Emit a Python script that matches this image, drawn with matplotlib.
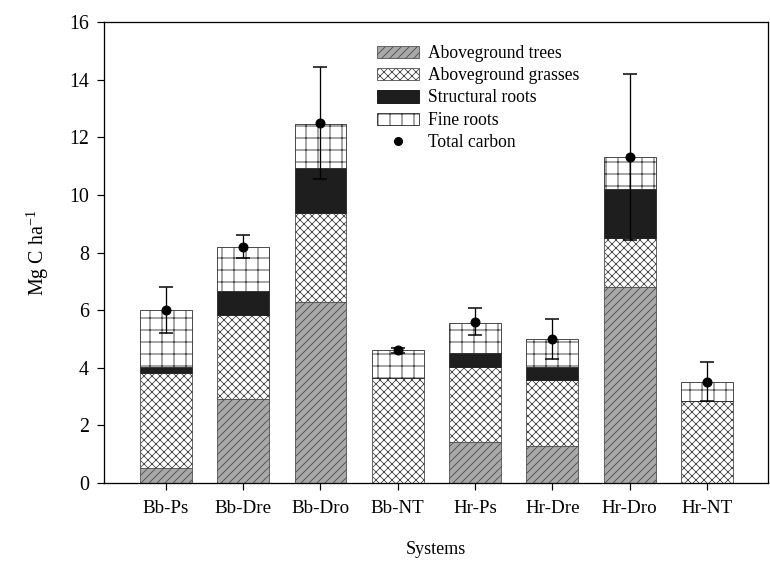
import matplotlib.pyplot as plt
from matplotlib.patches import Patch
from matplotlib.lines import Line2D

plt.rcParams["font.family"] = ["Liberation Serif", "DejaVu Serif"]
plt.rcParams["hatch.linewidth"] = 0.8

# data (Mg C ha-1)
systems = ["Bb-Ps", "Bb-Dre", "Bb-Dro", "Bb-NT", "Hr-Ps", "Hr-Dre", "Hr-Dro", "Hr-NT"]
trees = [0.52, 2.92, 6.27, 0.0, 1.43, 1.28, 6.80, 0.0]
grasses = [3.31, 2.91, 3.09, 3.65, 2.61, 2.30, 1.70, 2.85]
structural = [0.21, 0.85, 1.59, 0.0, 0.46, 0.46, 1.70, 0.0]
fine = [1.96, 1.52, 1.50, 0.95, 1.07, 0.95, 1.10, 0.67]
total = [6.0, 8.2, 12.5, 4.6, 5.6, 5.0, 11.3, 3.52]
err = [0.8, 0.4, 1.95, 0.1, 0.47, 0.7, 2.88, 0.68]

fig = plt.figure(figsize=(770 / 72, 562 / 72), dpi=72)
ax = fig.add_axes([104 / 770, 79 / 562, 664 / 770, 461 / 562])

x = list(range(len(systems)))
w = 0.67
b1 = trees
b2 = [a + b for a, b in zip(b1, grasses)]
b3 = [a + b for a, b in zip(b2, structural)]

ax.bar(x, trees, w, color="#a8a8a8", edgecolor="#4a4a4a", hatch="///", linewidth=0.8)
ax.bar(x, grasses, w, bottom=b1, color="white", edgecolor="#454545", hatch="xxx", linewidth=0.8)
ax.bar(x, structural, w, bottom=b2, color="#1e1e1e", edgecolor="#1e1e1e", linewidth=0.8)
ax.bar(x, fine, w, bottom=b3, color="white", edgecolor="#222222", hatch="+", linewidth=0.8)
ax.errorbar(x, total, yerr=err, fmt="o", color="black", markersize=9,
            ecolor="black", elinewidth=1.3, capsize=7, capthick=1.5, zorder=5)

ax.set_xlim(-0.8, 7.79)
ax.set_ylim(0, 16)
ax.set_yticks(range(0, 17, 2))
ax.set_xticks(x)
ax.set_xticklabels(systems, fontsize=19)
ax.tick_params(axis="y", labelsize=20, direction="out", length=7, width=1.2, pad=8)
ax.tick_params(axis="x", direction="out", length=7, width=1.2, pad=10)
for s in ax.spines.values():
    s.set_linewidth(1.3)

ax.set_xlabel("Systems", fontsize=18, labelpad=24)
ax.set_ylabel("Mg C ha$^{\\mathregular{-1}}$", fontsize=20, labelpad=18)

handles = [
    Patch(facecolor="#a8a8a8", edgecolor="#4a4a4a", hatch="///", linewidth=0.8),
    Patch(facecolor="white", edgecolor="#454545", hatch="xxx", linewidth=0.8),
    Patch(facecolor="#1e1e1e", edgecolor="#1e1e1e"),
    Patch(facecolor="white", edgecolor="#222222", hatch="+", linewidth=0.8),
    Line2D([], [], marker="o", color="black", linestyle="none", markersize=8),
]
labels = ["Aboveground trees", "Aboveground grasses", "Structural roots", "Fine roots", "Total carbon"]
ax.legend(handles, labels, loc="upper left", bbox_to_anchor=(377 / 770, 1 - 45 / 562),
          bbox_transform=fig.transFigure, frameon=False, fontsize=17.5,
          handlelength=2.4, handleheight=0.7, labelspacing=0.3, handletextpad=0.5,
          borderaxespad=0, borderpad=0)

fig.savefig("out.png", dpi=72)
